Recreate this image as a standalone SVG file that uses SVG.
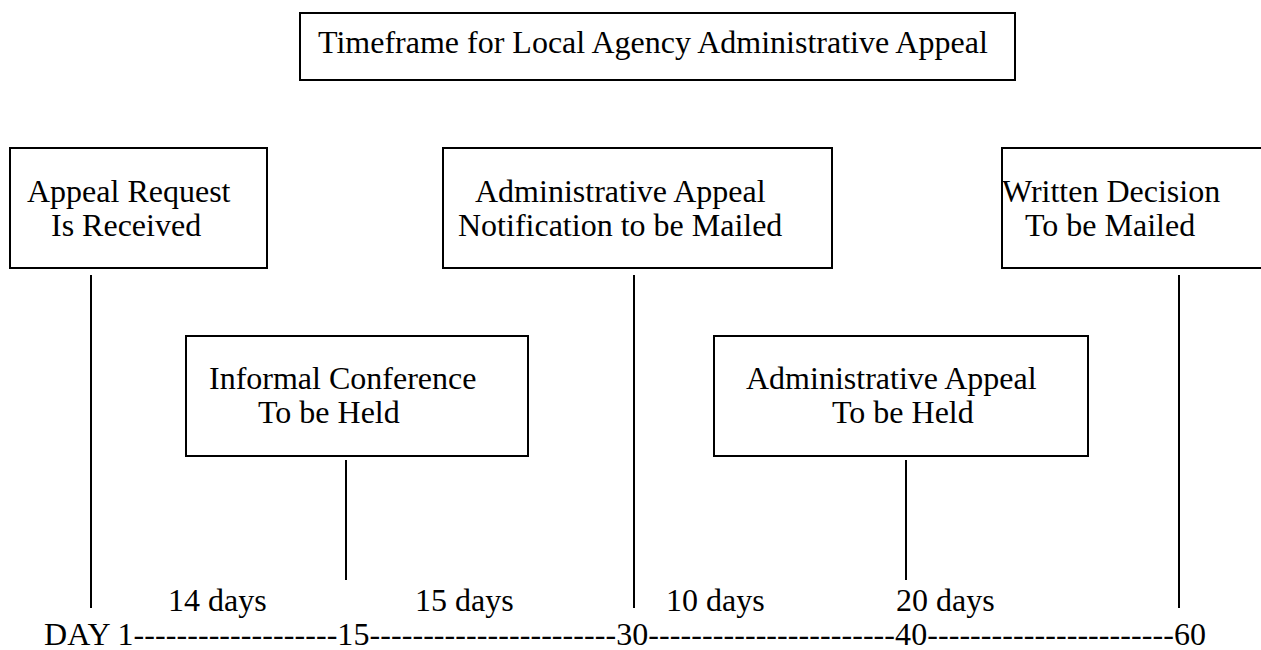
<svg xmlns="http://www.w3.org/2000/svg" width="1261" height="650" viewBox="0 0 1261 650">
<style>
.box{fill:#fff;stroke:#000;stroke-width:2}
.t{font-family:"Liberation Serif","Times New Roman",serif;font-size:32px;fill:#000}
.ln{stroke:#000;stroke-width:2}
</style>
<rect width="1261" height="650" fill="#fff"/>
<g id="title"><rect class="box" x="300" y="13" width="715" height="67"/><text class="t" x="318" y="53">Timeframe for Local Agency Administrative Appeal</text></g>
<g id="n1"><rect class="box" x="10" y="148" width="257" height="120"/><text class="t"><tspan x="27" y="202">Appeal Request</tspan><tspan x="51" y="236">Is Received</tspan></text></g>
<g id="n2"><rect class="box" x="186" y="336" width="342" height="120"/><text class="t"><tspan x="209" y="389">Informal Conference</tspan><tspan x="258" y="423">To be Held</tspan></text></g>
<g id="n3"><rect class="box" x="443" y="148" width="389" height="120"/><text class="t"><tspan x="475" y="202">Administrative Appeal</tspan><tspan x="458" y="236">Notification to be Mailed</tspan></text></g>
<g id="n4"><rect class="box" x="714" y="336" width="374" height="120"/><text class="t"><tspan x="746" y="389">Administrative Appeal</tspan><tspan x="832" y="423">To be Held</tspan></text></g>
<g id="n5"><rect class="box" x="1002" y="148" width="270" height="120"/><text class="t"><tspan x="1002" y="202">Written Decision</tspan><tspan x="1025" y="236">To be Mailed</tspan></text></g>
<g id="connectors">
<line class="ln" x1="91" y1="275" x2="91" y2="608"/>
<line class="ln" x1="346" y1="460" x2="346" y2="580"/>
<line class="ln" x1="634" y1="275" x2="634" y2="608"/>
<line class="ln" x1="906" y1="460" x2="906" y2="580"/>
<line class="ln" x1="1179" y1="275" x2="1179" y2="608"/>
</g>
<g id="timeline">
<text class="t" x="168" y="611">14 days</text>
<text class="t" x="415" y="611">15 days</text>
<text class="t" x="666" y="611">10 days</text>
<text class="t" x="896" y="611">20 days</text>
<text class="t" x="44" y="645" textLength="1162" lengthAdjust="spacing">DAY 1-------------------15-----------------------30-----------------------40-----------------------60</text>
</g>
</svg>
